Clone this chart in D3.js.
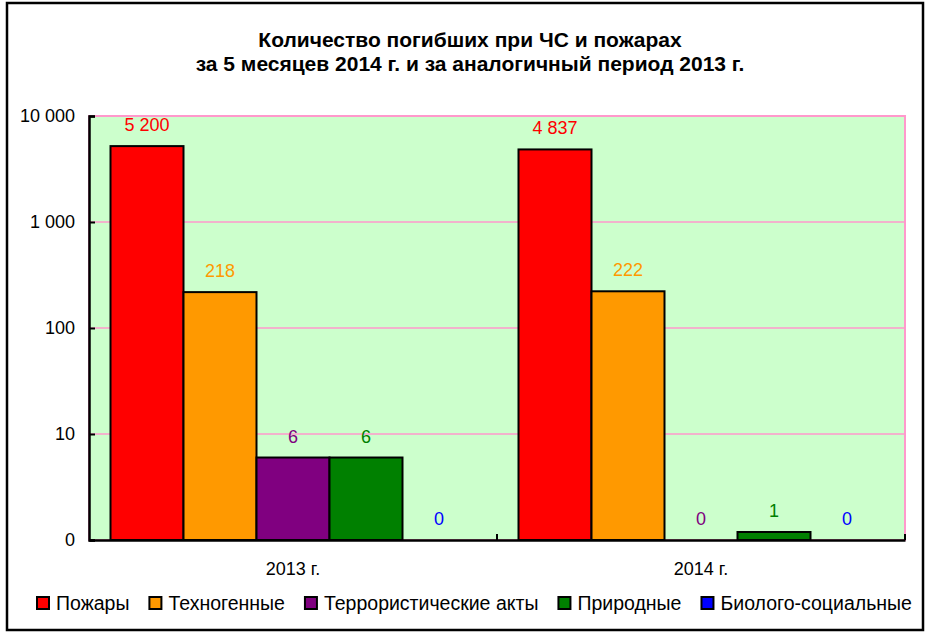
<!DOCTYPE html>
<html>
<head>
<meta charset="utf-8">
<script src="https://cdn.jsdelivr.net/npm/d3@7"></script>
<style>
body{margin:0;background:#fff;}
text{font-family:Arial,"Liberation Sans",sans-serif;}
</style>
</head>
<body>
<svg id="chart"></svg>
<script>
// data
var categories = ["2013 г.","2014 г."]
var seriesNames = ["Пожары","Техногенные","Террористические акты","Природные","Биолого-социальные"]
var seriesColors = ["#ff0000","#ff9900","#800080","#008000","#0000ff"]
var values2013 = [5200,218,6,6,0]
var values2014 = [4837,222,0,1,0]
var yTicks = [1,10,100,1000,10000]
var yTickLabels = ["0","10","100","1 000","10 000"]
var titleLines = ["Количество погибших при ЧС и пожарах","за 5 месяцев 2014 г. и за аналогичный период 2013 г."]

var screen = {width:925,height:633}
var margins = {left:89,right:20,top:116,bottom:93}
var graph = {
    width:screen.width-margins.left-margins.right,
    height:screen.height-margins.top-margins.bottom
}

var ru = d3.formatLocale({decimal:",",thousands:" ",grouping:[3],currency:["",""]})
var fmt = ru.format(",d")

var svg = d3.select("#chart")
    .attr("width",screen.width)
    .attr("height",screen.height)

// outer frame
svg.append("rect")
    .attr("x",7).attr("y",3)
    .attr("width",916).attr("height",627)
    .attr("fill","#fff")
    .attr("stroke","#000")
    .attr("stroke-width",2.5)

var rows = []
categories.forEach(function(c,ci){
    var vals = ci==0 ? values2013 : values2014
    seriesNames.forEach(function(s,si){
        rows.push({cat:c,series:s,color:seriesColors[si],value:vals[si]})
    })
})

var xScale = d3.scaleBand()
    .domain(categories)
    .range([0,graph.width])

var xInner = d3.scaleBand()
    .domain(seriesNames)
    .range([21.5,xScale.bandwidth()-21.5])

var yScale = d3.scaleLog()
    .domain([1,10000])
    .range([graph.height,0])

var target = svg.append("g")
    .attr("transform","translate("+margins.left+","+margins.top+")")

// plot area
target.append("rect")
    .attr("width",graph.width)
    .attr("height",graph.height)
    .attr("fill","#ccffcc")
    .attr("stroke","#ff99cc")
    .attr("stroke-width",2)

target.selectAll(".grid")
    .data(yTicks.slice(1))
    .enter()
    .append("line")
    .attr("class","grid")
    .attr("x1",0).attr("x2",graph.width)
    .attr("y1",function(d){return yScale(d)})
    .attr("y2",function(d){return yScale(d)})
    .attr("stroke","#ff99cc")
    .attr("stroke-width",1.3)

// bar top, Excel keeps a thin sliver for the value 1
var barTop = function(d){
    if(d.value<=0) return graph.height
    return Math.min(yScale(d.value),graph.height-8)
}

target.selectAll(".bar")
    .data(rows.filter(function(d){return d.value>0}))
    .enter()
    .append("rect")
    .attr("class","bar")
    .attr("x",function(d){return xScale(d.cat)+xInner(d.series)})
    .attr("y",barTop)
    .attr("width",xInner.bandwidth())
    .attr("height",function(d){return graph.height-barTop(d)})
    .attr("fill",function(d){return d.color})
    .attr("stroke","#000")
    .attr("stroke-width",2)

target.selectAll(".val")
    .data(rows)
    .enter()
    .append("text")
    .attr("class","val")
    .attr("x",function(d){return xScale(d.cat)+xInner(d.series)+xInner.bandwidth()/2})
    .attr("y",function(d){return barTop(d)-15})
    .attr("text-anchor","middle")
    .attr("font-size",18)
    .attr("fill",function(d){return d.color})
    .text(function(d){return fmt(d.value)})

// axes
var yAxis = d3.axisLeft(yScale)
    .tickValues(yTicks)
    .tickFormat(function(d,i){return yTickLabels[i]})
    .tickSize(-6)
    .tickPadding(14)

var ya = target.append("g").call(yAxis)
ya.select(".domain").attr("stroke","#000").attr("stroke-width",2.5)
ya.selectAll(".tick line").attr("stroke","#000").attr("stroke-width",2)
ya.selectAll(".tick text").attr("font-size",18).attr("fill","#000").attr("font-family","Arial,'Liberation Sans',sans-serif")

var xAxis = d3.axisBottom(xScale).tickSize(0).tickPadding(22)
var xa = target.append("g")
    .attr("transform","translate(0,"+graph.height+")")
    .call(xAxis)
xa.select(".domain").attr("stroke","#000").attr("stroke-width",2.5)
xa.selectAll(".tick text").attr("font-size",18).attr("fill","#000").attr("font-family","Arial,'Liberation Sans',sans-serif")

// category separators
target.selectAll(".sep")
    .data([xScale.bandwidth(),graph.width])
    .enter()
    .append("line")
    .attr("x1",function(d){return d}).attr("x2",function(d){return d})
    .attr("y1",graph.height).attr("y2",graph.height-6)
    .attr("stroke","#000")
    .attr("stroke-width",2)

// title
svg.selectAll(".title")
    .data(titleLines)
    .enter()
    .append("text")
    .attr("class","title")
    .attr("x",470)
    .attr("y",function(d,i){return 47+i*24})
    .attr("text-anchor","middle")
    .attr("font-size",21)
    .attr("font-weight","bold")
    .text(function(d){return d})

// legend
var legend = svg.append("g").attr("transform","translate(36,610)")
var lx = 0
seriesNames.forEach(function(s,i){
    var g = legend.append("g").attr("transform","translate("+lx+",0)")
    g.append("rect")
        .attr("x",1).attr("y",-13)
        .attr("width",12).attr("height",12)
        .attr("fill",seriesColors[i])
        .attr("stroke","#000")
        .attr("stroke-width",2)
    var t = g.append("text")
        .attr("x",20)
        .attr("font-size",19.5)
        .text(s)
    lx += 20+t.node().getComputedTextLength()+19
})
</script>
</body>
</html>
